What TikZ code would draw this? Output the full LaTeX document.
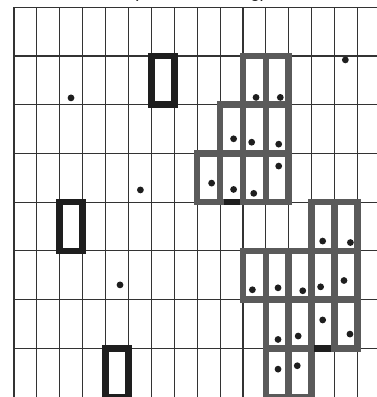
\documentclass[tikz,border=0pt]{standalone}
\usepackage{fontspec}
\setmainfont{Liberation Sans}
\definecolor{gridline}{HTML}{333333}
\definecolor{clustergray}{HTML}{5A5A5A}
\definecolor{seedblack}{HTML}{1E1E1E}
\begin{document}
\begin{tikzpicture}[
    x=11.45pt, y=-24.35pt,
    gridrule/.style={draw=gridline, line width=0.55pt},
    graycell/.style={draw=clustergray, line width=3.3pt},
    seedcell/.style={draw=seedblack, line width=3.3pt},
    seededge/.style={draw=seedblack, line width=3.3pt},
    point/.style={fill=seedblack},
    captiontext/.style={font=\fontsize{9.3}{11}\selectfont},
]
\useasboundingbox (-0.611,-0.15) rectangle (15.808,8.002);

% Caption (cut off at top)
\node[captiontext, anchor=base] (caption) at (8.1,-0.21) {(after clustering)};

% Grid
\foreach \r in {0,...,7}
    \draw[gridrule] (0,\r) -- (15.9,\r);
\foreach \c in {0,...,15}
    \draw[gridrule] (\c,0) -- (\c,8.1);

% Black single cells
\foreach \c/\r in {6/1, 2/4, 4/7}
    \draw[seedcell] (\c,\r) rectangle ++(1,1);

% Gray clusters
\foreach \c/\r in {10/1, 11/1,
                   9/2, 10/2, 11/2,
                   8/3, 9/3, 10/3, 11/3}
    \draw[graycell] (\c,\r) rectangle ++(1,1);
\foreach \c/\r in {13/4, 14/4,
                   10/5, 11/5, 12/5, 13/5, 14/5,
                   11/6, 12/6, 13/6, 14/6,
                   11/7, 12/7}
    \draw[graycell] (\c,\r) rectangle ++(1,1);

% Black edge pieces left under the clusters
\draw[seededge] (9.15,4) -- (9.85,4);
\draw[seededge] (13.1,7) -- (13.85,7);

% Points
\foreach \x/\y in {2.49/1.86, 5.52/3.75, 14.47/1.08,
                   10.57/1.85, 11.63/1.85,
                   9.59/2.70, 10.38/2.77, 11.56/2.81,
                   11.56/3.26, 8.63/3.61, 9.59/3.74, 10.47/3.82,
                   4.63/5.70, 13.48/4.80, 14.69/4.83,
                   10.41/5.80, 11.53/5.76, 12.61/5.82, 13.39/5.74, 14.41/5.61,
                   13.48/6.42, 14.67/6.71, 11.53/6.82, 12.41/6.75,
                   11.53/7.43, 12.37/7.36}
    \fill[point] (\x,\y) circle (1.7pt);
\end{tikzpicture}
\end{document}
